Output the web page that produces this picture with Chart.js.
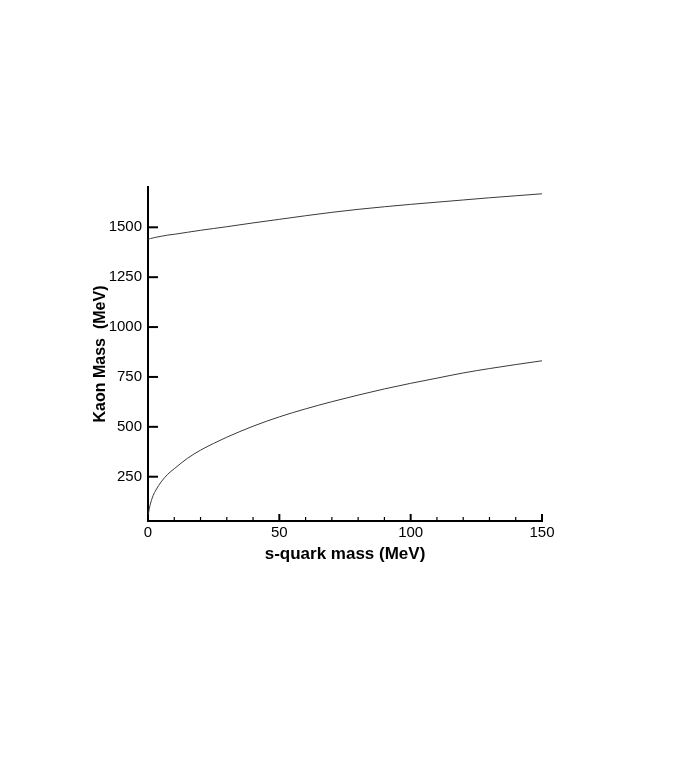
<!DOCTYPE html>
<html>
<head>
<meta charset="utf-8">
<title>Kaon Mass vs s-quark mass</title>
<script src="https://cdn.jsdelivr.net/npm/chart.js@4.4.1/dist/chart.umd.min.js"></script>
<style>
    html, body { margin: 0; padding: 0; background: #ffffff; }
    #wrap { width: 692px; height: 761px; }
</style>
</head>
<body>
<div id="wrap"><canvas id="kaonChart" width="692" height="761"></canvas></div>
<script>
// ========================================
// DATA
// ========================================
const quarkMass = [0, 0.25, 0.5, 1, 2, 3, 5, 7.5, 10, 15, 20, 25, 30, 40, 50, 60, 70, 80, 90, 100, 110, 120, 130, 140, 150];
const lowerKaon = [40, 70, 90, 118, 157, 183, 224, 262, 290, 342, 383, 417, 448, 503, 550, 590, 626, 659, 690, 718, 744, 770, 792, 812, 831];
const upperKaon = [1440, 1441, 1442, 1444, 1447, 1450, 1455, 1461, 1465, 1475, 1485, 1494, 1503, 1522, 1540, 1558, 1575, 1590, 1603, 1615, 1626, 1637, 1648, 1658, 1668];

const xMajorTicks = [0, 50, 100, 150];
const xMinorTicks = [10, 20, 30, 40, 60, 70, 80, 90, 110, 120, 130, 140];
const yTicks = [250, 500, 750, 1000, 1250, 1500];

const X_MIN = 0, X_MAX = 150;
const Y_MIN = 28, Y_MAX = 1702;

const FONT = "'Liberation Sans', Arial, Helvetica, sans-serif";

function toPoints(xs, ys) {
    return xs.map((x, i) => ({ x: x, y: ys[i] }));
}

// ========================================
// INWARD TICK MARKS
// ========================================
const inwardTicks = {
    id: 'inwardTicks',
    afterDatasetsDraw(chart) {
        const ctx = chart.ctx;
        const xs = chart.scales.x;
        const ys = chart.scales.y;
        const area = chart.chartArea;
        ctx.save();
        ctx.strokeStyle = '#000';
        ctx.lineCap = 'butt';

        // major x ticks
        ctx.lineWidth = 2;
        xMajorTicks.forEach(v => {
            const px = xs.getPixelForValue(v);
            ctx.beginPath();
            ctx.moveTo(px, area.bottom);
            ctx.lineTo(px, area.bottom - 7);
            ctx.stroke();
        });

        // minor x ticks
        ctx.lineWidth = 1.2;
        xMinorTicks.forEach(v => {
            const px = xs.getPixelForValue(v);
            ctx.beginPath();
            ctx.moveTo(px, area.bottom);
            ctx.lineTo(px, area.bottom - 4);
            ctx.stroke();
        });

        // y ticks
        ctx.lineWidth = 2;
        yTicks.forEach(v => {
            const py = ys.getPixelForValue(v);
            ctx.beginPath();
            ctx.moveTo(area.left, py);
            ctx.lineTo(area.left + 10, py);
            ctx.stroke();
        });
        ctx.restore();
    }
};

// ========================================
// BUILD CHART
// ========================================
const ctx = document.getElementById('kaonChart').getContext('2d');

new Chart(ctx, {
    type: 'line',
    data: {
        datasets: [
            {
                label: 'upper',
                data: toPoints(quarkMass, upperKaon),
                borderColor: '#3a3a3a',
                borderWidth: 1,
                pointRadius: 0,
                cubicInterpolationMode: 'monotone',
                fill: false
            },
            {
                label: 'lower',
                data: toPoints(quarkMass, lowerKaon),
                borderColor: '#3a3a3a',
                borderWidth: 1,
                pointRadius: 0,
                cubicInterpolationMode: 'monotone',
                fill: false
            }
        ]
    },
    options: {
        responsive: false,
        animation: false,
        events: [],
        layout: {
            padding: { left: 88, right: 150, top: 187, bottom: 195 }
        },
        plugins: {
            legend: { display: false },
            tooltip: { enabled: false }
        },
        scales: {
            x: {
                type: 'linear',
                min: X_MIN,
                max: X_MAX,
                afterBuildTicks: function(scale) {
                    scale.ticks = xMajorTicks.map(v => ({ value: v }));
                },
                afterFit: function(scale) {
                    scale.height = 45;
                },
                grid: { display: false, drawTicks: false },
                border: { display: true, color: '#000', width: 2 },
                ticks: {
                    padding: 3,
                    maxRotation: 0,
                    color: '#000',
                    font: { family: FONT, size: 15 },
                    callback: function(value) { return String(value); }
                },
                title: {
                    display: true,
                    text: 's-quark mass (MeV)',
                    color: '#000',
                    font: { family: FONT, size: 17, weight: 'bold' },
                    padding: { top: 0, bottom: 1 }
                }
            },
            y: {
                type: 'linear',
                min: Y_MIN,
                max: Y_MAX,
                afterBuildTicks: function(scale) {
                    scale.ticks = yTicks.map(v => ({ value: v }));
                },
                afterFit: function(scale) {
                    scale.width = 60;
                },
                grid: { display: false, drawTicks: false },
                border: { display: true, color: '#000', width: 2 },
                ticks: {
                    padding: 6,
                    color: '#000',
                    font: { family: FONT, size: 15 },
                    callback: function(value) { return String(value); }
                },
                title: {
                    display: true,
                    text: 'Kaon Mass  (MeV)',
                    color: '#000',
                    font: { family: FONT, size: 16, weight: 'bold' },
                    padding: { top: 3, bottom: 0 }
                }
            }
        }
    },
    plugins: [inwardTicks]
});
</script>
</body>
</html>
